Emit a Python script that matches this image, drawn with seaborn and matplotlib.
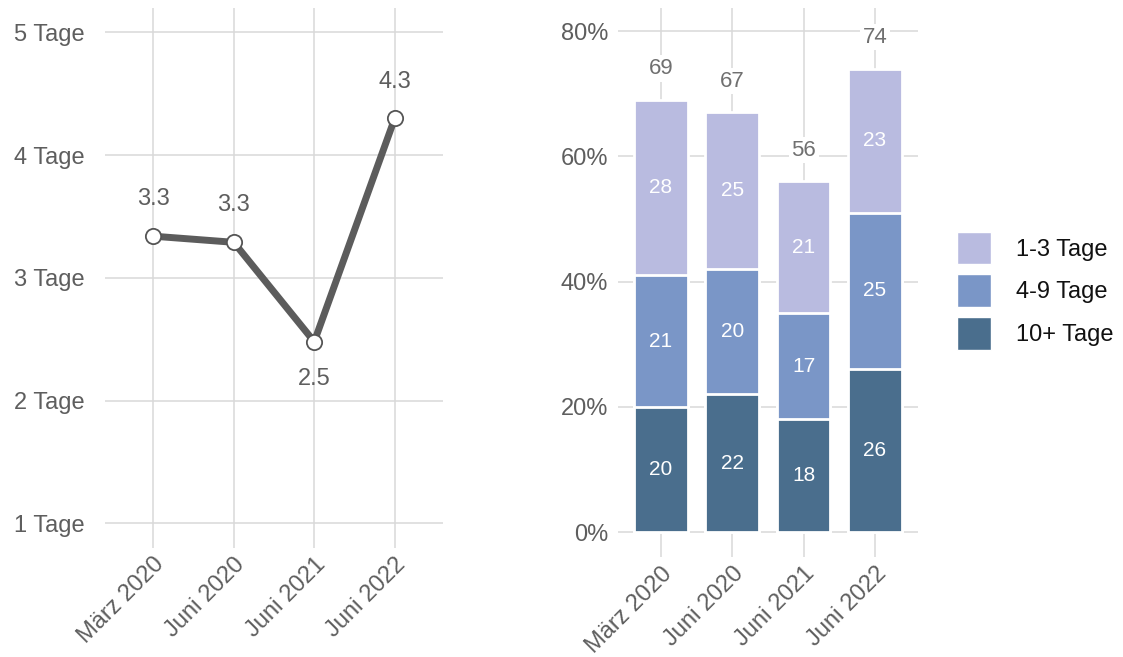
import matplotlib
matplotlib.use("Agg")
import matplotlib.pyplot as plt
import seaborn as sns
import pandas as pd
import numpy as np
from matplotlib.patches import Patch

# -----------------------------
# Data
# -----------------------------
zeitpunkte = ["März 2020", "Juni 2020", "Juni 2021", "Juni 2022"]
tage_mittel = [3.34, 3.29, 2.48, 4.30]
tage_labels = ["3.3", "3.3", "2.5", "4.3"]

gruppen = ["1-3 Tage", "4-9 Tage", "10+ Tage"]
anteil_10plus = [20, 22, 18, 26]
anteil_4_9 = [21, 20, 17, 25]
anteil_1_3 = [28, 25, 21, 23]
gesamt = [69, 67, 56, 74]

farben = {"1-3 Tage": "#B9BBE0", "4-9 Tage": "#7A96C7", "10+ Tage": "#4A6E8D"}
grid_col = "#D9D9D9"
text_col = "#5E5E5E"

sns.set_theme(style="whitegrid")
plt.rcParams["font.family"] = ["Liberation Sans", "DejaVu Sans"]

fig = plt.figure(figsize=(11.23, 6.57), dpi=100)
ax1 = fig.add_axes([0.0935, 0.166, 0.301, 0.822])
ax2 = fig.add_axes([0.5503, 0.152, 0.267, 0.836])

# -----------------------------
# Left: mean number of days
# -----------------------------
df_line = pd.DataFrame({"zeit": zeitpunkte, "tage": tage_mittel})
sns.lineplot(data=df_line, x="zeit", y="tage", ax=ax1, color="#5C5C5C",
             linewidth=5, marker="o", markersize=11, markerfacecolor="white",
             markeredgecolor="#555555", markeredgewidth=1.3, zorder=3)
for i, (v, lab) in enumerate(zip(tage_mittel, tage_labels)):
    off = -0.30 if i == 2 else 0.30
    ax1.text(i, v + off, lab, ha="center", va="center", fontsize=17, color=text_col)

ax1.set_xlim(-0.6, 3.6)
ax1.set_ylim(0.8, 5.2)
ax1.set_yticks([1, 2, 3, 4, 5])
ax1.set_yticklabels([f"{t} Tage" for t in [1, 2, 3, 4, 5]])

# -----------------------------
# Right: share by duration group (stacked)
# -----------------------------
df_bar = pd.DataFrame({
    "zeit": zeitpunkte,
    "10+ Tage": anteil_10plus,
    "4-9 Tage": anteil_4_9,
    "1-3 Tage": anteil_1_3,
})
df_bar["cum_10"] = df_bar["10+ Tage"]
df_bar["cum_4"] = df_bar["cum_10"] + df_bar["4-9 Tage"]
df_bar["cum_1"] = df_bar["cum_4"] + df_bar["1-3 Tage"]

for col, grp in [("cum_1", "1-3 Tage"), ("cum_4", "4-9 Tage"), ("cum_10", "10+ Tage")]:
    sns.barplot(data=df_bar, x="zeit", y=col, ax=ax2, color=farben[grp],
                width=0.75, edgecolor="white", linewidth=2, saturation=1, zorder=2)

for i in range(len(zeitpunkte)):
    b0 = 0
    for grp in ["10+ Tage", "4-9 Tage", "1-3 Tage"]:
        v = df_bar.loc[i, grp]
        ax2.text(i, b0 + v / 2, str(v), ha="center", va="center",
                 fontsize=15, color="white", zorder=4)
        b0 += v
    ax2.text(i, gesamt[i] + 5.0, str(gesamt[i]), ha="center", va="center",
             fontsize=16, color="#707070", zorder=4,
             bbox=dict(boxstyle="square,pad=0.12", fc="white", ec="none"))

ax2.set_xlim(-0.6, 3.6)
ax2.set_ylim(-4, 83.7)
ax2.set_yticks([0, 20, 40, 60, 80])
ax2.set_yticklabels([f"{t}%" for t in [0, 20, 40, 60, 80]])

handles = [Patch(facecolor=farben[g], edgecolor="white") for g in gruppen]
ax2.legend(handles, gruppen, loc="center left", bbox_to_anchor=(1.06, 0.485),
           frameon=False, fontsize=17, handlelength=1.45, handleheight=1.75,
           labelspacing=0.43, handletextpad=1.05, labelcolor="#111111")

# -----------------------------
# Shared styling
# -----------------------------
for ax, ypad in [(ax1, 15), (ax2, 7)]:
    ax.set_xlabel("")
    ax.set_ylabel("")
    for s in ax.spines.values():
        s.set_visible(False)
    ax.grid(True, color=grid_col, linewidth=1.1)
    ax.set_axisbelow(True)
    ax.tick_params(axis="y", length=0, pad=ypad, labelsize=17, labelcolor=text_col)
    ax.tick_params(axis="x", length=0, pad=4, labelsize=17, labelcolor=text_col)
    for lab in ax.get_xticklabels():
        lab.set_rotation(45)
        lab.set_ha("right")
        lab.set_va("top")
        lab.set_rotation_mode("anchor")

fig.savefig("out.png", dpi=100, facecolor="white")
